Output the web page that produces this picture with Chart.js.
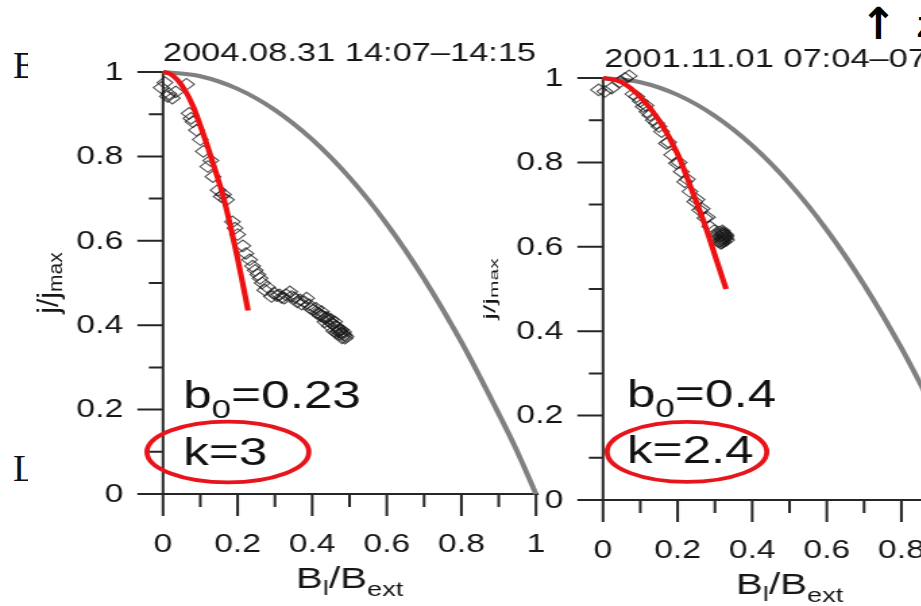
<!DOCTYPE html>
<html>
<head>
<meta charset="utf-8">
<script src="https://cdn.jsdelivr.net/npm/chart.js@4/dist/chart.umd.min.js"></script>
<style>
  html, body { margin: 0; padding: 0; background: #fff; }
  body { width: 921px; height: 606px; overflow: hidden; position: relative; }
  canvas { position: absolute; top: 0; filter: blur(0.45px); }
  #panelA { left: 0; }
  #panelB { left: 440px; }
  .clip { position: absolute; overflow: hidden; }
  .clip span { position: absolute; line-height: 1; white-space: nowrap; }
</style>
</head>
<body>
<div class="clip" style="left:0;top:36px;width:28px;height:48px">
  <span style="left:13px;top:7px;font:38px 'Liberation Serif',serif;color:#111">E</span>
</div>
<div class="clip" style="left:0;top:440px;width:28px;height:48px">
  <span style="left:13px;top:6px;font:38px 'Liberation Serif',serif;color:#111">L</span>
</div>
<div class="clip" style="left:855px;top:0;width:66px;height:48px">
  <span style="left:5px;top:-2px;font:bold 44px 'DejaVu Sans',sans-serif;color:#000">↑</span>
  <span style="left:62px;top:10px;font:bold 30px 'Liberation Sans',sans-serif;color:#000">Z</span>
</div>

<canvas id="panelA" width="415" height="606" style="width:560px;height:606px"></canvas>
<canvas id="panelB" width="415" height="606" style="width:560px;height:606px"></canvas>

<script>
// axis ticks (both panels share the same 0..1 ranges)
const majorTicks = [0, 0.2, 0.4, 0.6, 0.8, 1];
const minorTicks = [0.1, 0.3, 0.5, 0.7, 0.9];
const tickLabels = ['0', '0.2', '0.4', '0.6', '0.8', '1'];

// reference curve j/jmax vs Bl/Bext (grey)
const refX = [0, 0.1, 0.2, 0.3, 0.4, 0.5, 0.6, 0.7, 0.8, 0.9, 0.95, 1];
const refY = [1, 0.99, 0.96, 0.91, 0.84, 0.75, 0.64, 0.51, 0.36, 0.19, 0.1, 0];

// 2004.08.31 event
const fitAX = [0, 0.02, 0.04, 0.06, 0.08, 0.1, 0.12, 0.14, 0.16, 0.18, 0.2, 0.215, 0.228];
const fitAY = [1, 0.995, 0.98, 0.955, 0.92, 0.873, 0.822, 0.767, 0.71, 0.638, 0.558, 0.493, 0.435];
const obsAX = [-0.005, 0.005, 0.016, 0.025, 0.034, 0.063, 0.07, 0.08, 0.09, 0.108, 0.12, 0.134,
  0.148, 0.156, 0.17, 0.186, 0.2, 0.214, 0.232, 0.247, 0.26, 0.273, 0.291, 0.305, 0.318,
  0.33, 0.34, 0.352, 0.367, 0.378, 0.385, 0.392, 0.402, 0.41, 0.42, 0.429, 0.436, 0.444,
  0.45, 0.456, 0.462, 0.468, 0.473, 0.478, 0.482, 0.486, 0.488, 0.49,
  0.012, 0.075, 0.1, 0.128, 0.162, 0.193, 0.222, 0.24, 0.254, 0.266, 0.28, 0.298, 0.312,
  0.325, 0.345, 0.36, 0.372, 0.396, 0.415, 0.425, 0.44, 0.452, 0.46, 0.47, 0.476, 0.484,
  0.48, 0.472, 0.466, 0.458, 0.446, 0.434, 0.422];
const obsAY = [0.963, 0.975, 0.948, 0.938, 0.953, 0.971, 0.902, 0.882, 0.862, 0.812, 0.776, 0.752,
  0.72, 0.705, 0.697, 0.645, 0.615, 0.588, 0.555, 0.53, 0.511, 0.483, 0.468, 0.47, 0.466,
  0.472, 0.479, 0.465, 0.46, 0.456, 0.464, 0.448, 0.436, 0.44, 0.426, 0.42, 0.418, 0.41,
  0.414, 0.403, 0.398, 0.394, 0.388, 0.389, 0.38, 0.377, 0.369, 0.373,
  0.942, 0.89, 0.84, 0.79, 0.71, 0.63, 0.57, 0.54, 0.52, 0.5, 0.49, 0.476, 0.472,
  0.464, 0.468, 0.455, 0.45, 0.44, 0.43, 0.432, 0.418, 0.405, 0.408, 0.385, 0.382, 0.384,
  0.37, 0.378, 0.382, 0.386, 0.398, 0.408, 0.422];

// 2001.11.01 event
const fitBX = [0, 0.05, 0.1, 0.15, 0.2, 0.24, 0.27, 0.3, 0.33];
const fitBY = [1, 0.99, 0.955, 0.9, 0.82, 0.73, 0.66, 0.58, 0.5];
const obsBX = [-0.012, 0.005, 0.023, 0.045, 0.059, 0.07, 0.09, 0.1, 0.108, 0.118, 0.126, 0.135,
  0.144, 0.157, 0.17, 0.184, 0.197, 0.21, 0.219, 0.233, 0.246, 0.259, 0.273, 0.286, 0.298,
  0.306, 0.312, 0.316, 0.32, 0.322, 0.326, 0.328, 0.331, 0.318,
  0.08, 0.115, 0.15, 0.176, 0.204, 0.226, 0.252, 0.266, 0.28, 0.31, 0.324, 0.314, 0.33, 0.32,
  0.318, 0.323, 0.327, 0.315, 0.321, 0.325, 0.329, 0.319];
const obsBY = [0.972, 0.968, 0.976, 0.991, 0.999, 1.005, 0.956, 0.945, 0.932, 0.92, 0.912, 0.9,
  0.893, 0.873, 0.845, 0.818, 0.798, 0.778, 0.754, 0.731, 0.707, 0.687, 0.668, 0.648, 0.638,
  0.628, 0.635, 0.608, 0.615, 0.632, 0.622, 0.63, 0.616, 0.62,
  0.962, 0.935, 0.885, 0.848, 0.8, 0.76, 0.712, 0.69, 0.67, 0.612, 0.612, 0.625, 0.626, 0.638,
  0.628, 0.618, 0.624, 0.614, 0.634, 0.628, 0.62, 0.61];

const panelTitles = ['2004.08.31 14:07\u201314:15', '2001.11.01 07:04\u201307:12'];
const b0Values = ['0.23', '0.4'];
const kValues = ['3', '2.4'];

const FONT = '"Liberation Sans", Arial, sans-serif';
const INK = '#161616';

function pts(xs, ys) {
  return xs.map((x, i) => ({ x: x, y: ys[i] }));
}

// text pieces in one row, each piece {t, size, dy}
function runWidth(ctx, parts) {
  let w = 0;
  parts.forEach(p => { ctx.font = p.size + 'px ' + FONT; w += ctx.measureText(p.t).width; });
  return w;
}
function drawRun(ctx, parts, x, y) {
  parts.forEach(p => {
    ctx.font = p.size + 'px ' + FONT;
    ctx.fillText(p.t, x, y + (p.dy || 0));
    x += ctx.measureText(p.t).width;
  });
}

function framePlugin(cfg) {
  return {
    id: 'frame',
    beforeDatasetsDraw(chart) {
      const { ctx, chartArea: a, scales: { x, y } } = chart;
      ctx.save();
      ctx.strokeStyle = '#262626';
      ctx.lineWidth = 2;
      ctx.beginPath();
      ctx.moveTo(a.left, y.getPixelForValue(1));
      ctx.lineTo(a.left, a.bottom);
      ctx.moveTo(a.left, a.bottom);
      ctx.lineTo(a.right + 2, a.bottom);
      majorTicks.forEach(v => {
        const py = y.getPixelForValue(v);
        ctx.moveTo(a.left - 19, py); ctx.lineTo(a.left, py);
        const px = x.getPixelForValue(v);
        ctx.moveTo(px, a.bottom); ctx.lineTo(px, a.bottom + 22);
      });
      minorTicks.forEach(v => {
        const py = y.getPixelForValue(v);
        ctx.moveTo(a.left - 10.5, py); ctx.lineTo(a.left, py);
        const px = x.getPixelForValue(v);
        ctx.moveTo(px, a.bottom); ctx.lineTo(px, a.bottom + 13);
      });
      ctx.stroke();

      // red ellipse round the k value
      const cx = x.getPixelForValue(cfg.ring.x), cy = y.getPixelForValue(cfg.ring.y);
      const rx = x.getPixelForValue(cfg.ring.x + cfg.ring.rx) - cx;
      const ry = cy - y.getPixelForValue(cfg.ring.y + cfg.ring.ry);
      ctx.strokeStyle = '#e8141b';
      ctx.lineWidth = 3.8;
      ctx.beginPath();
      ctx.ellipse(cx, cy, rx, ry, 0, 0, Math.PI * 2);
      ctx.stroke();
      ctx.restore();
    },
    afterDraw(chart) {
      const { ctx, chartArea: a, scales: { x, y } } = chart;
      ctx.save();
      ctx.fillStyle = INK;

      // tick labels
      ctx.font = '25px ' + FONT;
      ctx.textAlign = 'right';
      ctx.textBaseline = 'middle';
      majorTicks.forEach((v, i) => ctx.fillText(tickLabels[i], a.left - 29.5, y.getPixelForValue(v) + 1));
      ctx.textAlign = 'center';
      ctx.textBaseline = 'alphabetic';
      majorTicks.forEach((v, i) => ctx.fillText(tickLabels[i], x.getPixelForValue(v), a.bottom + 58));

      // title
      ctx.font = '25.5px ' + FONT;
      ctx.fillText(cfg.title, (a.left + a.right) / 2, a.top - 11);

      // x axis title  Bl/Bext
      ctx.textAlign = 'left';
      const xt = [
        { t: 'B', size: 30 }, { t: 'l', size: 20, dy: 7 }, { t: '/B', size: 30 }, { t: 'ext', size: 20, dy: 8 }
      ];
      drawRun(ctx, xt, (a.left + a.right) / 2 - runWidth(ctx, xt) / 2, a.bottom + 94);

      // y axis title  j/jmax
      const yt = [{ t: 'j/j', size: 30 }, { t: 'max', size: 21, dy: 7 }];
      ctx.save();
      ctx.translate(a.left - 84, (a.top + a.bottom) / 2);
      ctx.rotate(-Math.PI / 2);
      ctx.scale(1, cfg.squash);
      ctx.textBaseline = 'middle';
      drawRun(ctx, yt, -runWidth(ctx, yt) / 2, 0);
      ctx.restore();

      // fit parameters
      ctx.fillStyle = '#111';
      drawRun(ctx, [{ t: 'b', size: 38 }, { t: '0', size: 26, dy: 10 }, { t: '=' + cfg.b0, size: 38 }],
        x.getPixelForValue(cfg.text.x), y.getPixelForValue(cfg.text.yb));
      drawRun(ctx, [{ t: 'k=' + cfg.k, size: 38 }],
        x.getPixelForValue(cfg.text.x), y.getPixelForValue(cfg.text.yk));
      ctx.restore();
    }
  };
}

function makePanel(id, fit, obs, cfg, pad) {
  new Chart(document.getElementById(id), {
    type: 'scatter',
    data: {
      datasets: [
        {
          label: 'fit',
          data: fit,
          showLine: true,
          borderColor: '#ee1111',
          borderWidth: 4.2,
          pointRadius: 0,
          cubicInterpolationMode: 'monotone',
          clip: false
        },
        {
          label: 'observed',
          data: obs,
          pointStyle: 'rectRot',
          pointRadius: 5.8,
          pointBorderWidth: 1.1,
          pointBorderColor: 'rgba(25,25,25,0.75)',
          pointBackgroundColor: 'rgba(0,0,0,0)',
          clip: false
        },
        {
          label: 'reference',
          data: pts(refX, refY),
          showLine: true,
          borderColor: '#808080',
          borderWidth: 4,
          pointRadius: 0,
          cubicInterpolationMode: 'monotone',
          clip: false
        }
      ]
    },
    options: {
      responsive: false,
      animation: false,
      events: [],
      layout: { padding: pad },
      plugins: { legend: { display: false }, title: { display: false }, tooltip: { enabled: false } },
      scales: {
        x: { type: 'linear', min: 0, max: 1, display: false },
        y: { type: 'linear', min: 0, max: 1, display: false }
      }
    },
    plugins: [framePlugin(cfg)]
  });
}

makePanel('panelA', pts(fitAX, fitAY), pts(obsAX, obsAY), {
  title: panelTitles[0], b0: b0Values[0], k: kValues[0], squash: 0.74,
  text: { x: 0.054, yb: 0.204, yk: 0.069 },
  ring: { x: 0.174, y: 0.0995, rx: 0.217, ry: 0.072 }
}, { left: 120.8, right: 17.8, top: 72, bottom: 112 });

makePanel('panelB', pts(fitBX, fitBY), pts(obsBX, obsBY), {
  title: panelTitles[1], b0: b0Values[1], k: kValues[1], squash: 0.45,
  text: { x: 0.064, yb: 0.22, yk: 0.088 },
  ring: { x: 0.225, y: 0.114, rx: 0.214, ry: 0.071 }
}, { left: 120.8, right: 17.8, top: 78, bottom: 106 });
</script>
</body>
</html>
